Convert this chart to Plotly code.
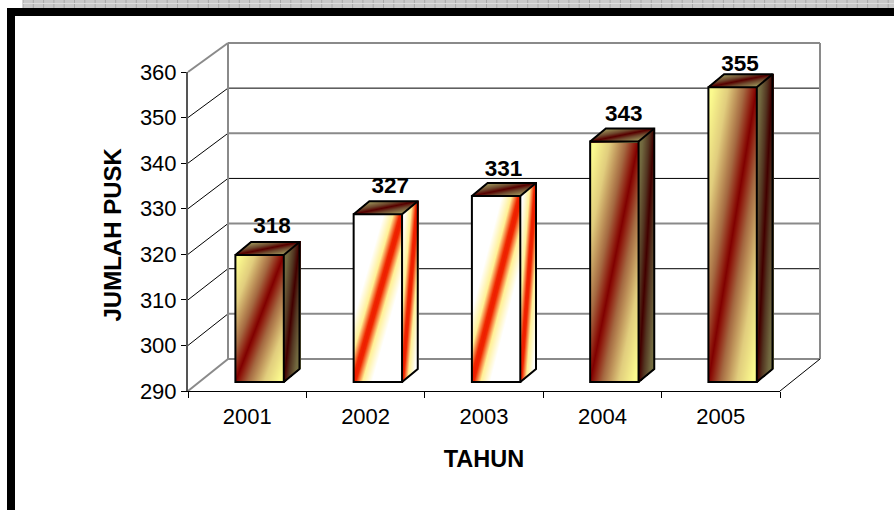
import numpy as np
import plotly.graph_objects as go

# ---- data ----
years = ["2001", "2002", "2003", "2004", "2005"]
counts = [318, 327, 331, 343, 355]
y_ticks = [290, 300, 310, 320, 330, 340, 350, 360]
x_title = "TAHUN"
y_title = "JUMLAH PUSK"

# ---- styling ----
W, H = 894, 510
FONT = "Liberation Sans"
base_value = 290
ppx = 118.25          # pixels per category step on the bar plane
ppy = 4.536           # pixels per unit on the bar plane
first_center_px = 259.6
base_px = 382
bar_w_px = 48.4
depth_px = (15.7, 13.0)
schemes = ["dark", "light", "light", "dark", "dark"]
label_dx_px = [12.5, 12.5, 7.5, 9.5, 7.5]
label_lift_px = [14.5, 13.5, 13, 13, 9]

yellow = np.array([251, 250, 142])
maroon = np.array([128, 0, 0])


def X(px):
    return (np.asarray(px, float) - first_center_px) / ppx


def Y(py):
    return base_value + (base_px - np.asarray(py, float)) / ppy


def rgb(c, k=1.0):
    c = np.asarray(c, float) * k
    return "rgb(%d,%d,%d)" % tuple(np.round(c))


def scale(name, k=1.0):
    if name == "dark":
        return [[0, rgb(maroon, k)], [0.06, rgb((140, 20, 10), k)], [0.28, rgb((165, 105, 65), k)],
                [0.65, rgb((225, 205, 125), k)], [1, rgb(yellow, k)]]
    return [[0, rgb((238, 28, 0), k)], [0.05, rgb((240, 40, 0), k)], [0.2, rgb((255, 240, 150), k)],
            [0.42, rgb((255, 255, 255), k)], [1, rgb((255, 255, 255), k)]]


def heat(xs, ys, u, v, tu, tv, cs, stretch):
    inside = (u >= -tu) & (u <= 1 + tu) & (v >= -tv) & (v <= 1 + tv)
    z = np.clip(np.abs(u - v) * stretch, 0, 1).astype(object)
    z[~inside] = None
    return go.Heatmap(x=X(xs).tolist(), y=Y(ys).tolist(), z=z.tolist(), zmin=0, zmax=1,
                      colorscale=cs, showscale=False, hoverinfo="skip", xaxis="x", yaxis="y")


def grid(x0, x1, y0, y1):
    xs = np.arange(np.floor(x0), np.ceil(x1) + 1) + 0.5
    ys = np.arange(np.floor(y0), np.ceil(y1) + 1) + 0.5
    gx, gy = np.meshgrid(xs, ys)
    return xs, ys, gx, gy


def front_face(x0, w, top, h, cs, stretch):
    xs, ys, gx, gy = grid(x0, x0 + w, top, top + h)
    return heat(xs, ys, (gx - x0) / w, 1 - (gy - top) / h, 1 / w, 1 / h, cs, stretch)


def side_face(x0, dx, dy, top, h, cs, stretch):
    xs, ys, gx, gy = grid(x0, x0 + dx, top - dy, top + h)
    u = (gx - x0) / dx
    v = 1 - (gy - top + u * dy) / h
    return heat(xs, ys, u, v, 1 / dx, 1 / h, cs, stretch)


def top_face(x0, w, dx, dy, top, cs, stretch):
    xs, ys, gx, gy = grid(x0, x0 + w + dx, top - dy, top)
    v = (top - gy) / dy
    u = (gx - x0 - v * dx) / w
    return heat(xs, ys, u, v, 1 / w, 1 / dy, cs, stretch)


fig = go.Figure()
positions = list(range(len(counts)))
dx, dy = depth_px
half = bar_w_px / 2

# gradient faces of every bar, sized from the counts
for i, v in enumerate(counts):
    cx = first_center_px + positions[i] * ppx
    top = base_px - (v - base_value) * ppy
    h = base_px - top
    s = schemes[i]
    fig.add_trace(front_face(cx - half, bar_w_px, top, h, scale(s), 1.1))
    if s == "dark":
        fig.add_trace(side_face(cx + half, dx, dy, top, h, scale(s, 0.5), 0.9))
    else:
        fig.add_trace(side_face(cx + half, dx, dy, top, h, scale(s), 0.5))
    fig.add_trace(top_face(cx - half, bar_w_px, dx, dy, top, scale("dark", 0.66), 0.8))

# the bars themselves: outline of the front faces
fig.add_trace(go.Bar(x=positions, y=[v - base_value for v in counts], base=base_value,
                     width=bar_w_px / ppx, marker=dict(color="rgba(0,0,0,0)", line=dict(color="black", width=2)),
                     xaxis="x", yaxis="y", hoverinfo="skip", showlegend=False))

# outlines of side and top faces
ox, oy = [], []
for i, v in enumerate(counts):
    cx = first_center_px + positions[i] * ppx
    top = base_px - (v - base_value) * ppy
    pts = [(cx - half, top), (cx - half + dx, top - dy), (cx + half + dx, top - dy),
           (cx + half + dx, base_px - dy), (cx + half, base_px)]
    ox += [float(X(p[0])) for p in pts] + [None]
    oy += [float(Y(p[1])) for p in pts] + [None]
    ox += [float(X(cx + half)), float(X(cx + half + dx)), None]
    oy += [float(Y(top)), float(Y(top - dy)), None]
fig.add_trace(go.Scatter(x=ox, y=oy, mode="lines", line=dict(color="black", width=2),
                         hoverinfo="skip", showlegend=False, xaxis="x", yaxis="y"))

# value labels
lx = [float(X(first_center_px + p * ppx + d)) for p, d in zip(positions, label_dx_px)]
ly = [float(Y(base_px - (v - base_value) * ppy - dy - l)) for v, l in zip(counts, label_lift_px)]
fig.add_trace(go.Scatter(x=lx, y=ly, mode="text", text=[str(v) for v in counts], textposition="middle center",
                         textfont=dict(family=FONT, size=22.5, color="black"),
                         texttemplate="<b>%{text}</b>", hoverinfo="skip", showlegend=False, xaxis="x", yaxis="y"))

# real value and category axes (front plane)
fig.add_trace(go.Scatter(x=years, y=counts, mode="markers", marker=dict(opacity=0), hoverinfo="skip",
                         showlegend=False, xaxis="x2", yaxis="y2"))

# ---- chart walls ----
front = dict(l=188, r=780, b=391, t=72)
back = dict(l=228, r=820, b=359, t=43)
shapes = []


def seg(x0, y0, x1, y1, color, width, layer="below"):
    shapes.append(dict(type="line", xref="x", yref="y", x0=float(X(x0)), y0=float(Y(y0)), x1=float(X(x1)),
                       y1=float(Y(y1)), line=dict(color=color, width=width), layer=layer))


n = len(y_ticks) - 1
for k, t in enumerate(y_ticks):
    f = (t - y_ticks[0]) / (y_ticks[-1] - y_ticks[0])
    yb = back["b"] + (back["t"] - back["b"]) * f
    yf = front["b"] + (front["t"] - front["b"]) * f
    col = "#8a8a8a" if k in (0, n) or k % 2 == 1 else "black"
    w = 2 if col != "black" else 1
    seg(back["l"], yb, back["r"], yb, col, w)
    if 0 < k < n:
        seg(front["l"], yf, back["l"], yb, "black", 1)
seg(front["l"], front["t"], back["l"], back["t"], "#8a8a8a", 2)
seg(front["l"], front["b"], back["l"], back["b"], "#8a8a8a", 2)
seg(back["l"], back["t"], back["l"], back["b"], "#8a8a8a", 2)
seg(back["r"], back["t"], back["r"], back["b"], "#8a8a8a", 2)
seg(front["r"], front["b"], back["r"], back["b"], "black", 1)

# ---- frame and the patterned strip of the scanned page ----
shapes.append(dict(type="rect", xref="paper", yref="paper", x0=23 / W, x1=1, y0=1 - 8 / H, y1=1,
                   fillcolor="#c9c9c9", line=dict(width=0), layer="below"))
for sx in np.arange(23, W, 10.3):
    shapes.append(dict(type="line", xref="paper", yref="paper", x0=float(sx) / W, x1=float(sx) / W, y0=1 - 8 / H, y1=1,
                       line=dict(color="#a8a8a8", width=1), layer="below"))
shapes.append(dict(type="line", xref="paper", yref="paper", x0=23 / W, x1=1, y0=1 - 3.5 / H, y1=1 - 3.5 / H,
                   line=dict(color="#dddddd", width=1), layer="below"))
shapes.append(dict(type="rect", xref="paper", yref="paper", x0=7 / W, x1=1, y0=1 - 16 / H, y1=1 - 8 / H,
                   fillcolor="black", line=dict(width=0), layer="below"))
shapes.append(dict(type="rect", xref="paper", yref="paper", x0=7 / W, x1=15 / W, y0=0, y1=1 - 8 / H,
                   fillcolor="black", line=dict(width=0), layer="below"))

fig.update_layout(
    template="none",
    width=W, height=H, autosize=False, margin=dict(l=0, r=0, t=0, b=0, pad=0, autoexpand=False),
    paper_bgcolor="white", plot_bgcolor="rgba(0,0,0,0)", showlegend=False, shapes=shapes,
    font=dict(family=FONT, size=22, color="black"),
    annotations=[dict(text="<b>%s</b>" % y_title, xref="paper", yref="paper", x=112 / W, y=1 - 234.5 / H,
                      xanchor="center", yanchor="middle", textangle=-90, showarrow=False,
                      font=dict(family=FONT, size=24))],
    xaxis=dict(domain=[0, 1], range=[float(X(0)), float(X(W))], visible=False, fixedrange=True, automargin=False),
    yaxis=dict(domain=[0, 1], range=[float(Y(H)), float(Y(0))], visible=False, fixedrange=True, automargin=False),
    xaxis2=dict(domain=[front["l"] / W, front["r"] / W], anchor="y2", type="category", categoryorder="array",
                categoryarray=years, tickson="boundaries", ticks="outside", ticklen=6, tickwidth=1, tickcolor="black",
                showline=True, linecolor="black", linewidth=1, showgrid=False, zeroline=False, automargin=False,
                tickfont=dict(family=FONT, size=22), range=[-0.5, 4.5], ticklabelstandoff=6,
                title=dict(text="<b>%s</b>" % x_title, font=dict(family=FONT, size=23.5), standoff=22)),
    yaxis2=dict(domain=[1 - front["b"] / H, 1 - front["t"] / H], anchor="x2", range=[290, 360], tickvals=y_ticks,
                ticks="outside", ticklen=5, tickwidth=1, tickcolor="black", showline=True, linecolor="#555555",
                linewidth=2, showgrid=False, zeroline=False, automargin=False, tickfont=dict(family=FONT, size=22)),
)

fig.write_html("out.html", config=dict(displayModeBar=False),
               post_script="document.body.style.margin='0';document.body.style.overflow='hidden';")
